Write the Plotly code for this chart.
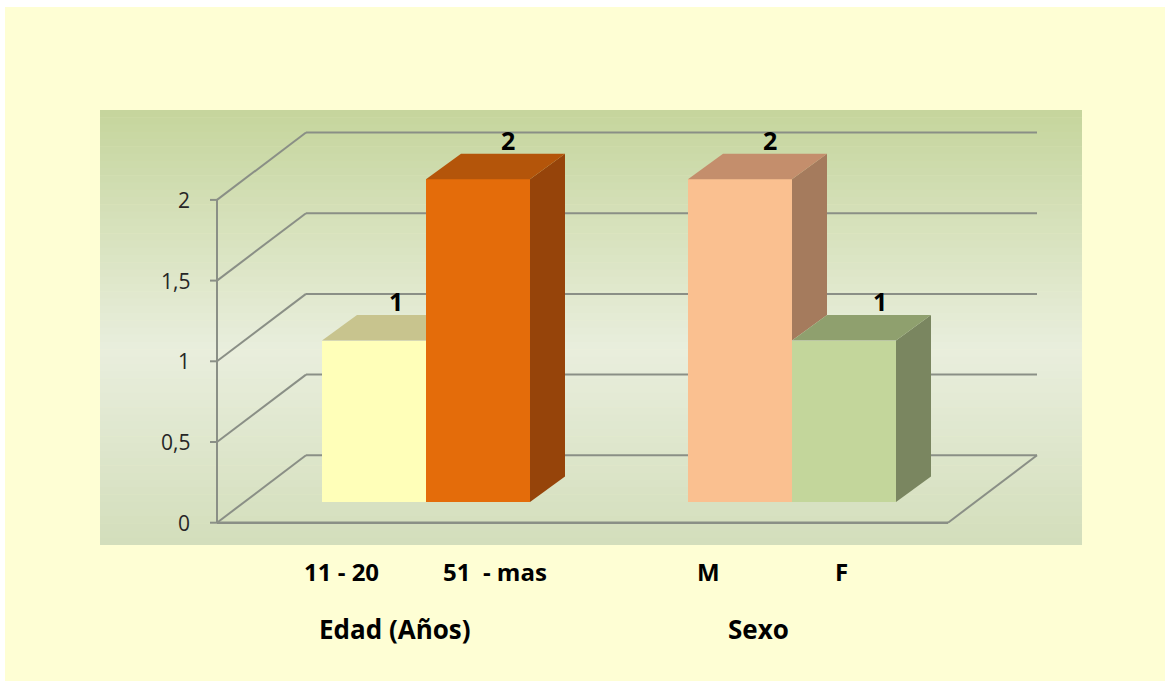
import plotly.graph_objects as go

# ---------------- data ----------------
categories = ["11 - 20", "51  - mas", "M", "F"]
values = [1, 2, 2, 1]
value_text = ["1", "2", "2", "1"]
group_of = [0, 0, 1, 1]
groups = ["Edad (Años)", "Sexo"]
y_tick_vals = [0, 0.5, 1, 1.5, 2]
y_tick_text = ["0", "0,5", "1", "1,5", "2"]

# ---------------- styling ----------------
front_colors = ["#FFFFB9", "#E46C0A", "#FAC090", "#C3D69B"]
top_colors = ["#C8C48E", "#B4550A", "#C48E6C", "#8FA06E"]
side_colors = ["#A8A474", "#96440A", "#A57B5D", "#7A8660"]

W, H = 1165, 681
PX_PER_UNIT = 161.4          # pixels per value unit on the front plane
Y0_PX = 522.7                # pixel row of value 0 on the front plane


def vy(p):
    """pixel row -> y-axis value"""
    return (Y0_PX - p) / PX_PER_UNIT


AXIS_X = 217                 # front vertical axis
DX_BACK, DY_BACK = 89, 67.4 / PX_PER_UNIT   # back wall offset
GRID_RIGHT = 1037
FLOOR_RIGHT = 948
DY_F = 20.7 / PX_PER_UNIT    # bar front depth offset (bars stand behind front edge)
DXD, DYD = 35, 25.5 / PX_PER_UNIT  # bar depth
BAR_W = 104
FIRST_LEFT = 322
GROUP_GAP = 158

lefts = [FIRST_LEFT + i * BAR_W + g * GROUP_GAP for i, g in enumerate(group_of)]
centers = [l + BAR_W / 2 for l in lefts]

GRID_COLOR = "#8A8F86"
FONT = "Open Sans"

fig = go.Figure()

# front faces
fig.add_trace(go.Bar(
    x=centers, y=values, base=[DY_F] * len(values), width=BAR_W,
    marker=dict(color=front_colors, line=dict(width=0)),
    hoverinfo="skip", showlegend=False,
))

# top and side faces (with occlusion by the neighbouring bar in the same group)
for i, v in enumerate(values):
    left, right = lefts[i], lefts[i] + BAR_W
    ytop = DY_F + v
    nxt = i + 1 if (i + 1 < len(values) and group_of[i + 1] == group_of[i]) else None
    # side face
    if nxt is None or values[nxt] < v:
        ybot = DY_F + (values[nxt] if nxt is not None else 0)
        fig.add_trace(go.Scatter(
            x=[right, right + DXD, right + DXD, right, right],
            y=[ytop, ytop + DYD, ybot + DYD, ybot, ytop],
            mode="lines", fill="toself", fillcolor=side_colors[i],
            line=dict(width=0), hoverinfo="skip", showlegend=False))
    # top face
    if nxt is not None and values[nxt] > v:
        xs = [left, right, right, left + DXD, left]
        ys = [ytop, ytop, ytop + DYD, ytop + DYD, ytop]
    else:
        xs = [left, right, right + DXD, left + DXD, left]
        ys = [ytop, ytop, ytop + DYD, ytop + DYD, ytop]
    fig.add_trace(go.Scatter(
        x=xs, y=ys, mode="lines", fill="toself", fillcolor=top_colors[i],
        line=dict(width=0), hoverinfo="skip", showlegend=False))

shapes = []
# cream page background
shapes.append(dict(type="rect", xref="x", yref="y", x0=5, x1=W + 5, y0=vy(7), y1=vy(H + 5),
                   fillcolor="#FEFED4", line=dict(width=0), layer="below"))


# green gradient plot area
def hex2rgb(h):
    h = h.lstrip("#")
    return [int(h[k:k + 2], 16) for k in (0, 2, 4)]


stops = [(0.0, "#C5D59C"), (0.55, "#E9EEDD"), (1.0, "#D3DEBB")]


def grad(t):
    for (t0, c0), (t1, c1) in zip(stops[:-1], stops[1:]):
        if t0 <= t <= t1:
            f = (t - t0) / (t1 - t0)
            a, b = hex2rgb(c0), hex2rgb(c1)
            return "rgb(%d,%d,%d)" % tuple(round(a[k] + (b[k] - a[k]) * f) for k in range(3))
    return stops[-1][1]


TOP_PX, BOT_PX, L_PX, R_PX = 110, 545, 100, 1082
NB = 60
for b in range(NB):
    p0 = TOP_PX + (BOT_PX - TOP_PX) * b / NB
    p1 = TOP_PX + (BOT_PX - TOP_PX) * (b + 1) / NB + 0.6
    shapes.append(dict(type="rect", xref="x", yref="y", x0=L_PX, x1=R_PX,
                       y0=vy(p0), y1=vy(min(p1, BOT_PX)),
                       fillcolor=grad((b + 0.5) / NB), line=dict(width=0), layer="below"))

# grid: diagonals and back-wall lines
for t in y_tick_vals:
    shapes.append(dict(type="line", xref="x", yref="y", x0=AXIS_X, y0=t,
                       x1=AXIS_X + DX_BACK, y1=t + DY_BACK,
                       line=dict(color=GRID_COLOR, width=2), layer="below"))
    shapes.append(dict(type="line", xref="x", yref="y", x0=AXIS_X + DX_BACK, y0=t + DY_BACK,
                       x1=GRID_RIGHT, y1=t + DY_BACK,
                       line=dict(color=GRID_COLOR, width=2), layer="below"))
    # tick mark
    shapes.append(dict(type="line", xref="x", yref="y", x0=AXIS_X - 7, y0=t, x1=AXIS_X, y1=t,
                       line=dict(color=GRID_COLOR, width=2), layer="below"))
# floor front edge and right edge
shapes.append(dict(type="line", xref="x", yref="y", x0=AXIS_X, y0=0, x1=FLOOR_RIGHT, y1=0,
                   line=dict(color=GRID_COLOR, width=2.5), layer="below"))
shapes.append(dict(type="line", xref="x", yref="y", x0=FLOOR_RIGHT, y0=0,
                   x1=FLOOR_RIGHT + DX_BACK, y1=DY_BACK,
                   line=dict(color=GRID_COLOR, width=2), layer="below"))
# front vertical axis
shapes.append(dict(type="line", xref="x", yref="y", x0=AXIS_X, y0=0, x1=AXIS_X,
                   y1=max(y_tick_vals), line=dict(color=GRID_COLOR, width=2), layer="below"))

annotations = []
for t, s in zip(y_tick_vals, y_tick_text):
    annotations.append(dict(x=192, y=t, xref="x", yref="y", text=s, showarrow=False,
                            xanchor="right", yanchor="middle",
                            font=dict(family=FONT, size=21, color="#262626")))
# value labels
val_label_dx = [22, 30, 30, 36]
for i, v in enumerate(values):
    annotations.append(dict(x=centers[i] + val_label_dx[i], y=DY_F + v + DYD + 14 / PX_PER_UNIT,
                            xref="x", yref="y", text="<b>%s</b>" % value_text[i],
                            showarrow=False, xanchor="center", yanchor="middle",
                            font=dict(family=FONT, size=25, color="#000000")))
# category labels (hand-placed text boxes in the original)
cat_label_offsets = [-33, 17, -32, -3]
for i, c in enumerate(categories):
    annotations.append(dict(x=centers[i] + cat_label_offsets[i], y=vy(571), xref="x", yref="y",
                            text="<b>%s</b>" % c.replace("  ", "&nbsp; "), showarrow=False,
                            xanchor="center", yanchor="middle",
                            font=dict(family=FONT, size=24, color="#000000")))
group_title_x = [395, 758]
for g, name in enumerate(groups):
    annotations.append(dict(x=group_title_x[g], y=vy(629), xref="x", yref="y",
                            text="<b>%s</b>" % name, showarrow=False,
                            xanchor="center", yanchor="middle",
                            font=dict(family=FONT, size=26, color="#000000")))

fig.update_layout(
    width=W, height=H,
    margin=dict(l=0, r=0, t=0, b=0, pad=0),
    paper_bgcolor="#FFFFFF", plot_bgcolor="#FFFFFF",
    xaxis=dict(range=[0, W], visible=False, fixedrange=True),
    yaxis=dict(range=[vy(H), vy(0)], visible=False, fixedrange=True),
    shapes=shapes, annotations=annotations,
    showlegend=False, bargap=0,
)

fig.write_html("out.html", config={"displayModeBar": False},
               post_script="document.body.style.margin='0';document.body.style.overflow='hidden';")
